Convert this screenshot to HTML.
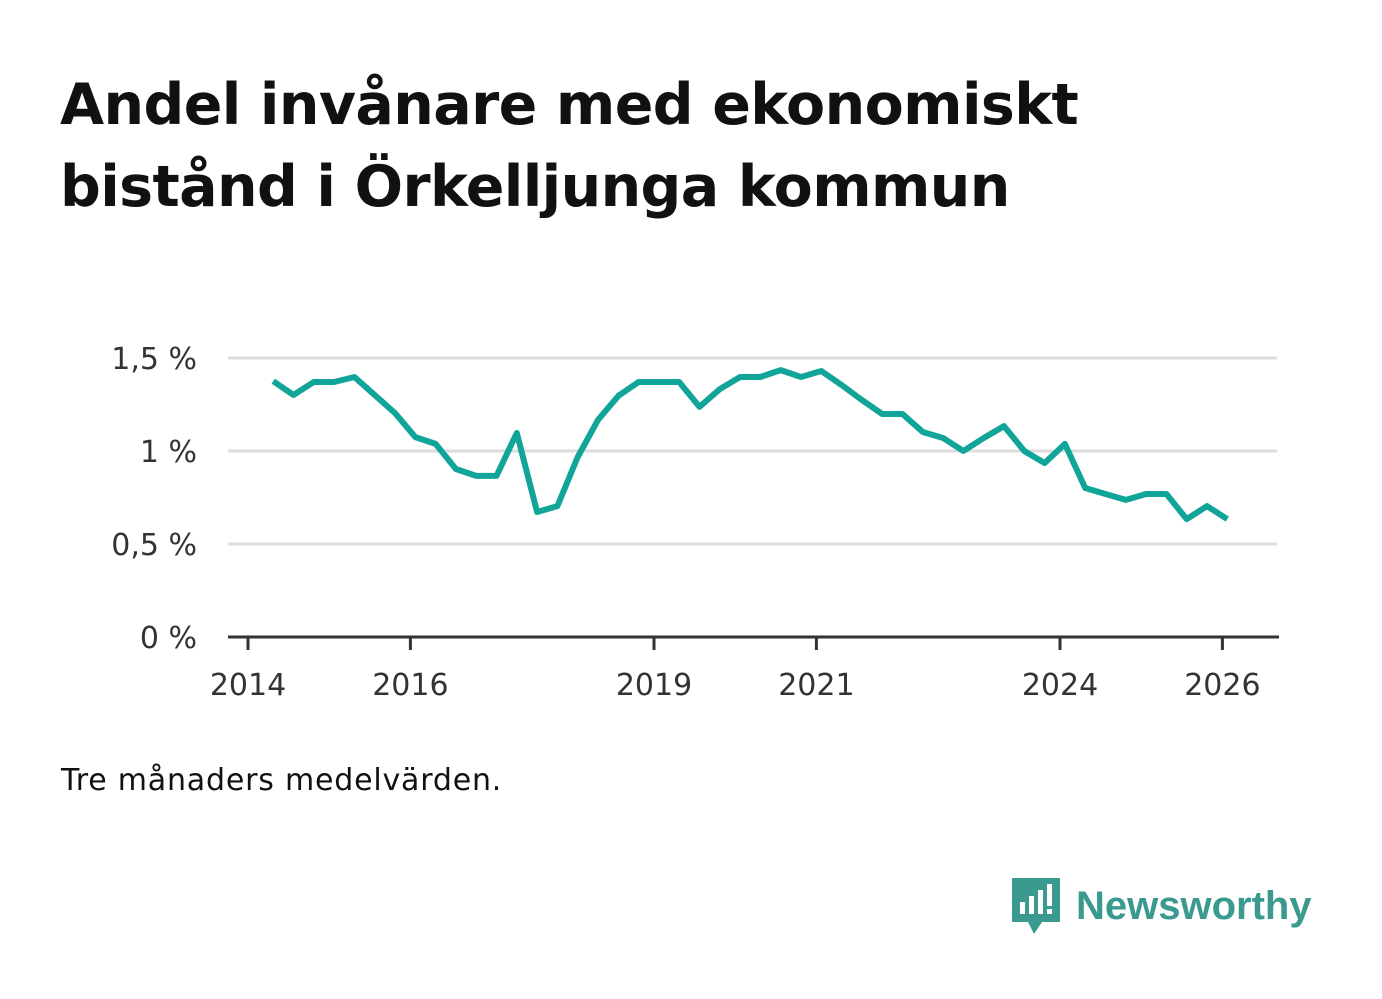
<!DOCTYPE html>
<html><head><meta charset="utf-8"><style>
body{margin:0;background:#fff;font-family:"DejaVu Sans","Liberation Sans",sans-serif;}
#wrap{position:relative;width:1382px;height:999px;overflow:hidden;}
h1{position:absolute;left:60px;top:64px;margin:0;font-size:57px;line-height:82px;font-weight:bold;color:#111;letter-spacing:-0.6px;}
.note{position:absolute;left:61px;top:763px;font-size:30px;color:#111;letter-spacing:0.8px;}
.logo{position:absolute;left:1010px;top:876px;display:flex;align-items:center;}
.logo span{font-size:40px;font-weight:bold;color:#3a9a8f;margin-left:14px;font-family:"Liberation Sans",sans-serif;}
</style></head><body>
<div id="wrap">
<h1>Andel invånare med ekonomiskt<br>bistånd i Örkelljunga kommun</h1>
<svg id="chart" width="1382" height="999" style="position:absolute;left:0;top:0"></svg>
<div class="note">Tre månaders medelvärden.</div>
<div class="logo">
<svg width="52" height="60" viewBox="0 0 52 60">
<path d="M2 2 H50 V46 H32 L24 58 L18 46 H2 Z" fill="#3a9a8f"/>
<rect x="10" y="26" width="5" height="12" fill="#fff"/><rect x="19" y="20" width="5" height="18" fill="#fff"/>
<rect x="28" y="14" width="5" height="24" fill="#fff"/><rect x="37" y="8" width="5" height="22" fill="#fff"/><rect x="37" y="33" width="5" height="5" fill="#fff"/>
</svg><span>Newsworthy</span></div>
</div>
<script>
const yTicks=[0,0.5,1,1.5];
const yTickLabels=["0 %","0,5 %","1 %","1,5 %"];
const xTicks=[2014,2016,2019,2021,2024,2026];
const startYear=2014.31;
const values=[1.376,1.301,1.371,1.371,1.398,1.301,1.204,1.075,1.038,0.903,0.866,0.866,1.097,0.672,0.704,0.968,1.167,1.296,1.371,1.371,1.371,1.237,1.333,1.398,1.398,1.435,1.398,1.430,1.355,1.274,1.199,1.199,1.102,1.070,1.0,1.070,1.134,1.0,0.935,1.038,0.801,0.769,0.737,0.769,0.769,0.634,0.704,0.634];
const NS="http://www.w3.org/2000/svg";
const svg=document.getElementById('chart');
const x=yr=>248+(yr-2014)*81.2;
const y=v=>637-v*186;
function mk(t,a){const e=document.createElementNS(NS,t);for(const k in a)e.setAttribute(k,a[k]);svg.appendChild(e);return e;}
yTicks.forEach((v,i)=>{
 if(v>0){const g=mk('line',{x1:228,x2:1277,y1:y(v),y2:y(v),stroke:'#dddddd','stroke-width':3});
 
 }
 const t=mk('text',{x:197,y:y(v)+11,'text-anchor':'end','font-size':30,fill:'#333','font-family':'DejaVu Sans, sans-serif'});
 t.textContent=yTickLabels[i];
 
 
});
const ax=mk('line',{x1:228,x2:1279,y1:637,y2:637,stroke:'#333','stroke-width':3});


xTicks.forEach(yr=>{
 const tk=mk('line',{x1:x(yr),x2:x(yr),y1:637,y2:650,stroke:'#333','stroke-width':3});
 
 
 const t=mk('text',{x:x(yr),y:695,'text-anchor':'middle','font-size':30,fill:'#333','font-family':'DejaVu Sans, sans-serif'});
 t.textContent=String(yr);
 
 
});
const pts=values.map((v,i)=>x(startYear+i*0.25).toFixed(1)+','+y(v).toFixed(1)).join(' ');
const pl=mk('polyline',{points:pts,fill:'none',stroke:'#11a599','stroke-width':6,'stroke-linejoin':'round'});


</script>
</body></html>
